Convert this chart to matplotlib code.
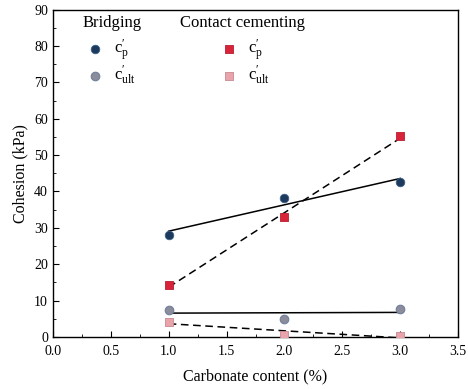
import numpy as np
import matplotlib
matplotlib.use('Agg')
import matplotlib.pyplot as plt

plt.rcParams.update({'font.family': 'Liberation Serif', 'font.size': 10,
                     'mathtext.fontset': 'custom', 'mathtext.rm': 'Liberation Serif',
                     'mathtext.it': 'Liberation Serif:italic'})

carbonate = [1.0, 2.0, 3.0]
bridging_cp = [28.1, 38.3, 42.6]
bridging_cult = [7.4, 4.9, 7.6]
contact_cp = [14.3, 32.9, 55.3]
contact_cult = [4.2, 0.5, 0.3]

fig = plt.figure(figsize=(4.68, 3.89), dpi=100)
ax = fig.add_axes([0.113, 0.134, 0.866, 0.841])

xs = np.array([1.0, 3.0])

def fit_line(y, dashed):
    k, b = np.polyfit(carbonate, y, 1)
    line, = ax.plot(xs, k*xs + b, color='black', lw=1.1, zorder=1)
    if dashed:
        line.set_dashes((5, 3))

fit_line(bridging_cp, False)
fit_line(bridging_cult, False)
fit_line(contact_cp, True)
fit_line(contact_cult, True)

h1 = ax.scatter(carbonate, bridging_cp, marker='o', s=38, color='#1d3a5c',
                edgecolor='#3a5f8a', lw=0.6, zorder=3)
h2 = ax.scatter(carbonate, bridging_cult, marker='o', s=38, color='#8c8c9a',
                edgecolor='#6f7fa0', lw=0.8, zorder=3)
h3 = ax.scatter(carbonate, contact_cp, marker='s', s=34, color='#d8233a',
                edgecolor='#b81e30', lw=0.6, zorder=3)
h4 = ax.scatter(carbonate, contact_cult, marker='s', s=34, color='#e8a4aa',
                edgecolor='#c88890', lw=0.6, zorder=3)

# group headings
ax.text(0.072, 0.958, 'Bridging', transform=ax.transAxes, fontsize=12, va='center')
ax.text(0.314, 0.958, 'Contact cementing', transform=ax.transAxes, fontsize=12, va='center')

lab_p = r"$\mathrm{c}^{\prime}_{\mathrm{p}}$"
lab_u = r"$\mathrm{c}^{\prime}_{\mathrm{ult}}$"
leg_kw = dict(frameon=False, loc='upper left', fontsize=12, handlelength=1.0,
              handletextpad=0.6, labelspacing=0.05, borderpad=0, borderaxespad=0)
leg1 = ax.legend([h1, h2], [lab_p, lab_u], bbox_to_anchor=(0.084, 0.915), **leg_kw)
ax.add_artist(leg1)
ax.legend([h3, h4], [lab_p, lab_u], bbox_to_anchor=(0.415, 0.915), **leg_kw)

ax.set_xlim(0, 3.5)
ax.set_ylim(0, 90)
ax.set_xticks(np.arange(0, 3.51, 0.5))
ax.set_yticks(np.arange(0, 91, 10))
ax.set_xticks(np.arange(0.25, 3.5, 0.5), minor=True)
ax.set_yticks(np.arange(5, 90, 10), minor=True)
ax.tick_params(direction='in', which='both', top=False, right=False, labelsize=10)
ax.tick_params(which='major', length=4)
ax.tick_params(which='minor', length=2)
ax.tick_params(axis='x', pad=6)
for s in ax.spines.values():
    s.set_linewidth(1.0)

ax.set_xlabel('Carbonate content (%)', fontsize=11.5, labelpad=7)
ax.set_ylabel('Cohesion (kPa)', fontsize=11.5)

plt.savefig('out.png', dpi=100)
